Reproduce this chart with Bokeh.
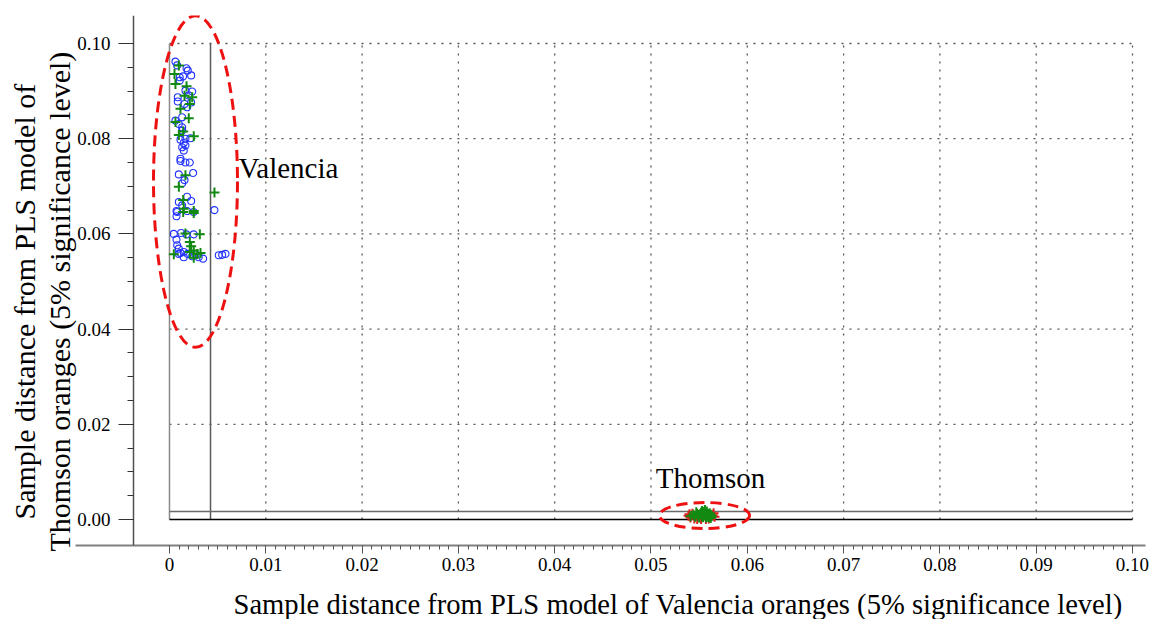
from bokeh.plotting import figure
from bokeh.models import Range1d, LinearAxis, FixedTicker, NumeralTickFormatter, Title
from bokeh.core.properties import value
from bokeh.embed import file_html
from bokeh.resources import INLINE

# ---------------- data ----------------
x_ticks = [0.0, 0.01, 0.02, 0.03, 0.04, 0.05, 0.06, 0.07, 0.08, 0.09, 0.10]
x_tick_labels = ["0", "0.01", "0.02", "0.03", "0.04", "0.05", "0.06", "0.07", "0.08", "0.09", "0.10"]
y_ticks = [0.0, 0.02, 0.04, 0.06, 0.08, 0.10]
y_tick_labels = ["0.00", "0.02", "0.04", "0.06", "0.08", "0.10"]

valencia_limit = 0.00426   # critical distance, Valencia model (x)
thomson_limit = 0.00168    # critical distance, Thomson model (y)

valencia_circle_x = [0.00062, 0.0008, 0.00177, 0.0019, 0.00225, 0.00107, 0.00142, 0.00107, 0.00166, 0.00236,
                     0.002, 0.00086, 0.00086, 0.00156, 0.00225, 0.00184, 0.00132, 0.00062, 0.00097, 0.00132,
                     0.00132, 0.00114, 0.00166, 0.00218, 0.00148, 0.00132, 0.00166, 0.00148, 0.00114, 0.00114,
                     0.00166, 0.00211, 0.00097, 0.00246, 0.00156, 0.00132, 0.00184, 0.00097, 0.00225, 0.00132,
                     0.00073, 0.00184, 0.00467, 0.0008, 0.00073, 0.00252, 0.00045, 0.00121, 0.00177, 0.00252,
                     0.00073, 0.0008, 0.00097, 0.00114, 0.00148, 0.0019, 0.00236, 0.0027, 0.00304, 0.0035,
                     0.00148, 0.00097, 0.00512, 0.00547, 0.00582]
valencia_circle_y = [0.0962, 0.0954, 0.0948, 0.0943, 0.0933, 0.0929, 0.0931, 0.0922, 0.0901, 0.0899,
                     0.0891, 0.0887, 0.0878, 0.0873, 0.0876, 0.0866, 0.0845, 0.0838, 0.0831, 0.0824,
                     0.0817, 0.0798, 0.0800, 0.0801, 0.0791, 0.0782, 0.0786, 0.0775, 0.0758, 0.0753,
                     0.0750, 0.0750, 0.0725, 0.0728, 0.0713, 0.0706, 0.0678, 0.0667, 0.0669, 0.0660,
                     0.0648, 0.0648, 0.0650, 0.0646, 0.0637, 0.0646, 0.0600, 0.0602, 0.0599, 0.0599,
                     0.0588, 0.0576, 0.0569, 0.0560, 0.0562, 0.0558, 0.0553, 0.0557, 0.0551, 0.0548,
                     0.0551, 0.0558, 0.0555, 0.0556, 0.0558]

valencia_plus_x = [0.00097, 0.00052, 0.00062, 0.00177, 0.00156, 0.00236, 0.00211, 0.00114, 0.00062, 0.002,
                   0.00142, 0.00097, 0.00252, 0.00166, 0.00097, 0.00142, 0.00148, 0.00252, 0.00467, 0.00142,
                   0.00252, 0.00166, 0.00315, 0.00211, 0.00225, 0.00045, 0.00211, 0.00252, 0.00288, 0.00322,
                   0.00252]
valencia_plus_y = [0.0954, 0.0936, 0.0915, 0.0910, 0.0890, 0.0887, 0.0873, 0.0863, 0.0835, 0.0843,
                   0.0815, 0.0808, 0.0805, 0.0723, 0.0699, 0.0671, 0.0653, 0.0648, 0.0687, 0.0646,
                   0.0644, 0.0601, 0.0599, 0.0583, 0.0574, 0.0557, 0.0562, 0.0565, 0.0558, 0.0560,
                   0.0550]

thomson_red_x = [0.0539, 0.0541, 0.0543, 0.0545, 0.0564, 0.0566, 0.0565, 0.0540, 0.0548, 0.0560, 0.0552, 0.0557]
thomson_red_y = [0.0008, 0.0004, 0.0012, 0.0002, 0.0009, 0.0006, 0.0013, 0.0011, 0.0001, 0.0002, 0.0001, 0.0001]

thomson_plus_x = [0.0541, 0.0544, 0.0546, 0.0548, 0.0549, 0.0551, 0.0552, 0.0553, 0.0554, 0.0555,
                  0.0556, 0.0557, 0.0558, 0.0559, 0.0560, 0.0561, 0.0562, 0.0563, 0.0550, 0.0554,
                  0.0557, 0.0560, 0.0553, 0.0556, 0.0547, 0.0562, 0.0555, 0.0558]
thomson_plus_y = [0.0007, 0.0010, 0.0006, 0.0012, 0.0008, 0.0011, 0.0014, 0.0007, 0.0010, 0.0016,
                  0.0009, 0.0012, 0.0006, 0.0011, 0.0008, 0.0013, 0.0010, 0.0007, 0.0004, 0.0005,
                  0.0004, 0.0005, 0.0018, 0.0020, 0.0015, 0.0003, 0.0013, 0.0017]

# class-region ellipses (centre x, centre y, width, height) and labels
region_x = [0.0027, 0.05556]
region_y = [0.0710, 0.00084]
region_w = [0.00872, 0.00935]
region_h = [0.0697, 0.00546]
label_text = ["Valencia", "Thomson"]
label_x = [0.00717, 0.0505]
label_y = [0.0739, 0.00882]

x_title = "Sample distance from PLS model of Valencia oranges (5% significance  level)"
y_title_lines = ["Sample distance from PLS model of", "Thomson oranges (5% significance level)"]

SERIF = "Liberation Serif"

p = figure(frame_width=1070, frame_height=530,
           x_range=Range1d(-0.00976, 0.10135), y_range=Range1d(-0.00546, 0.10588),
           y_axis_location=None, output_backend="svg", toolbar_location=None,
           min_border_left=75, min_border_right=15, min_border_top=15, min_border_bottom=74,
           outline_line_color=None, background_fill_color="white", border_fill_color="white")
p.xgrid.visible = False
p.ygrid.visible = False

lo, hi = x_ticks[0], x_ticks[-1]
ylo, yhi = y_ticks[0], y_ticks[-1]

# dotted grid restricted to the data window
gx = x_ticks[1:]
p.segment(x0=gx, y0=[ylo] * len(gx), x1=gx, y1=[yhi] * len(gx),
          line_color="#555555", line_width=1.3, line_dash="2 6")
gy = y_ticks[1:]
p.segment(x0=[lo] * len(gy), y0=gy, x1=[hi] * len(gy), y1=gy,
          line_color="#555555", line_width=1.3, line_dash="2 6")

# critical limit lines
p.segment(x0=[lo], y0=[ylo], x1=[lo], y1=[yhi], line_color="#8a8a8a", line_width=1.5)
p.segment(x0=[valencia_limit], y0=[ylo], x1=[valencia_limit], y1=[yhi], line_color="#5a5a5a", line_width=1.5)
p.segment(x0=[lo], y0=[thomson_limit], x1=[hi], y1=[thomson_limit], line_color="#6a6a6a", line_width=1.5)
p.segment(x0=[lo], y0=[ylo], x1=[hi], y1=[ylo], line_color="black", line_width=1.5)

# samples
p.scatter(valencia_circle_x, valencia_circle_y, marker="circle", size=7, fill_color=None,
          line_color="#2233ff", line_width=1.1)
p.scatter(valencia_plus_x, valencia_plus_y, marker="cross", size=10, line_color="#128a12", line_width=2)
p.scatter(thomson_red_x, thomson_red_y, marker="cross", size=10, line_color="#e02020", line_width=2)
p.scatter(thomson_plus_x, thomson_plus_y, marker="cross", size=10, line_color="#128a12", line_width=2)

# dashed red regions
p.ellipse(x=region_x, y=region_y, width=region_w, height=region_h, fill_color=None,
          line_color="#ee1111", line_width=3, line_dash="11 6")

p.text(x=label_x, y=label_y, text=label_text, text_font=value(SERIF), text_font_size="29px",
       text_baseline="middle", text_align="left", text_color="black")

# x axis
xa = p.xaxis[0]
xa.ticker = FixedTicker(ticks=x_ticks, minor_ticks=[i / 1000 for i in range(101)])
xa.formatter = NumeralTickFormatter(format="0.00")
xa.major_label_overrides = dict(zip(x_ticks, x_tick_labels))
xa.axis_line_color = "#808080"
xa.axis_line_width = 2
xa.major_tick_out = 8
xa.major_tick_in = 0
xa.minor_tick_out = 4
xa.minor_tick_in = 0
xa.major_tick_line_color = "#555555"
xa.minor_tick_line_color = "#555555"
xa.major_label_text_font = SERIF
xa.major_label_text_font_size = "19px"
xa.major_label_text_color = "black"
xa.major_label_standoff = 4
# blank spacer label: pushes the x title further from the tick labels
xa.axis_label = " "
xa.axis_label_text_font_size = "1px"
xa.axis_label_standoff = 11

p.add_layout(Title(text=x_title, align="left", offset=158, vertical_align="top",
                   text_font=SERIF, text_font_size="28.6px",
                   text_font_style="normal", text_color="black", standoff=0), "below")

# y axis, detached from the frame edge
ya = LinearAxis(fixed_location=-0.00374,
                ticker=FixedTicker(ticks=y_ticks, minor_ticks=[i / 200 for i in range(21)]),
                formatter=NumeralTickFormatter(format="0.00"))
ya.major_label_overrides = dict(zip(y_ticks, y_tick_labels))
ya.axis_line_color = "#505050"
ya.axis_line_width = 1.5
ya.major_tick_out = 15
ya.major_tick_in = 0
ya.minor_tick_out = 6
ya.minor_tick_in = 0
ya.major_tick_line_color = "#333333"
ya.minor_tick_line_color = "#333333"
ya.major_label_text_font = SERIF
ya.major_label_text_font_size = "19px"
ya.major_label_text_color = "black"
ya.major_label_standoff = 8
p.add_layout(ya, "left")

# two-line y title (inner line first), each centred near the middle of the axis
for line, off in [(y_title_lines[1], -6), (y_title_lines[0], 26)]:
    p.add_layout(Title(text=line, align="left", offset=off, vertical_align="bottom",
                       text_font=SERIF, text_font_size="30px",
                       text_font_style="normal", text_color="black", standoff=0), "left")

open("out.html", "w").write(file_html(p, INLINE))
